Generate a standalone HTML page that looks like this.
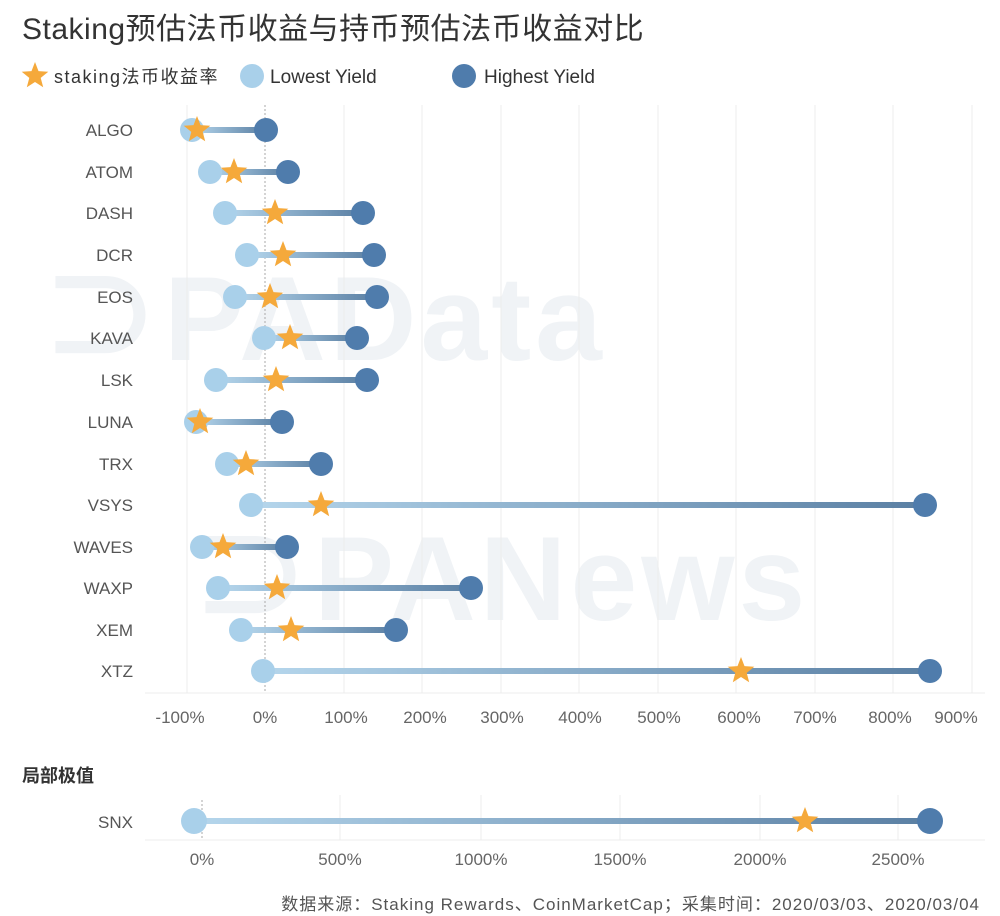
<!DOCTYPE html>
<html><head><meta charset="utf-8"><style>
body{margin:0;background:#fff}
svg{display:block;font-family:"Liberation Sans","Noto Sans CJK SC",sans-serif}
</style></head><body>
<svg width="1000" height="916" viewBox="0 0 1000 916" xmlns="http://www.w3.org/2000/svg">
<defs>
<linearGradient id="g" x1="0" y1="0" x2="1" y2="0"><stop offset="0" stop-color="#b5d6ec"/><stop offset="1" stop-color="#5a7fa3"/></linearGradient>
<polygon id="st" fill="#f5a93b" points="0,-14 3.5,-4.9 13.3,-4.3 5.7,1.9 8.2,11.3 0,6 -8.2,11.3 -5.7,1.9 -13.3,-4.3 -3.5,-4.9"/>
</defs>
<text x="22" y="39" font-size="30" fill="#333" letter-spacing="0.5">Staking预估法币收益与持币预估法币收益对比</text>
<use href="#st" x="35" y="76"/>
<text x="54" y="83" font-size="18" fill="#333" letter-spacing="1.5">staking法币收益率</text>
<circle cx="252" cy="76" r="12" fill="#a9d0ea"/>
<text x="270" y="83" font-size="19" fill="#333">Lowest Yield</text>
<circle cx="464" cy="76" r="12" fill="#4f7cac"/>
<text x="484" y="83" font-size="19" fill="#333">Highest Yield</text>
<!-- watermark -->
<text x="40" y="360" font-size="120" font-weight="bold" fill="#f0f3f6" letter-spacing="4">⊃PAData</text>
<text x="190" y="620" font-size="120" font-weight="bold" fill="#f0f3f6" letter-spacing="4">⊃PANews</text>
<!-- grid -->
<g stroke="#ececec" stroke-width="1">
<line x1="187" y1="105" x2="187" y2="693"/><line x1="344" y1="105" x2="344" y2="693"/><line x1="422" y1="105" x2="422" y2="693"/><line x1="501" y1="105" x2="501" y2="693"/><line x1="579" y1="105" x2="579" y2="693"/><line x1="658" y1="105" x2="658" y2="693"/><line x1="736" y1="105" x2="736" y2="693"/><line x1="815" y1="105" x2="815" y2="693"/><line x1="893" y1="105" x2="893" y2="693"/><line x1="972" y1="105" x2="972" y2="693"/>
<line x1="145" y1="693" x2="985" y2="693"/>
<line x1="340" y1="795" x2="340" y2="840"/><line x1="481" y1="795" x2="481" y2="840"/><line x1="620" y1="795" x2="620" y2="840"/><line x1="760" y1="795" x2="760" y2="840"/><line x1="898" y1="795" x2="898" y2="840"/>
<line x1="145" y1="840" x2="985" y2="840"/>
</g>
<line x1="265" y1="105" x2="265" y2="693" stroke="#aaa" stroke-dasharray="2,2"/>
<line x1="202" y1="800" x2="202" y2="840" stroke="#aaa" stroke-dasharray="2,2"/>
<g font-size="17" fill="#555" text-anchor="end">
<text x="133" y="136">ALGO</text><text x="133" y="178">ATOM</text><text x="133" y="219">DASH</text><text x="133" y="261">DCR</text><text x="133" y="303">EOS</text><text x="133" y="344">KAVA</text><text x="133" y="386">LSK</text><text x="133" y="428">LUNA</text><text x="133" y="470">TRX</text><text x="133" y="511">VSYS</text><text x="133" y="553">WAVES</text><text x="133" y="594">WAXP</text><text x="133" y="636">XEM</text><text x="133" y="677">XTZ</text>
<text x="133" y="828">SNX</text>
</g>
<g font-size="17" fill="#666" text-anchor="middle">
<text x="180" y="723">-100%</text><text x="265" y="723">0%</text><text x="346" y="723">100%</text><text x="425" y="723">200%</text><text x="502" y="723">300%</text><text x="580" y="723">400%</text><text x="659" y="723">500%</text><text x="739" y="723">600%</text><text x="815" y="723">700%</text><text x="890" y="723">800%</text><text x="956" y="723">900%</text>
<text x="202" y="865">0%</text><text x="340" y="865">500%</text><text x="481" y="865">1000%</text><text x="620" y="865">1500%</text><text x="760" y="865">2000%</text><text x="898" y="865">2500%</text>
</g>
<text x="22" y="782" font-size="18" font-weight="bold" fill="#333">局部极值</text>
<text x="980" y="910" font-size="17" fill="#555" text-anchor="end" letter-spacing="1">数据来源：Staking Rewards、CoinMarketCap；采集时间：2020/03/03、2020/03/04</text>
<!-- rows -->
<g>
<rect x="192" y="127" width="74" height="6" fill="url(#g)"/><circle cx="192" cy="130" r="12" fill="#a9d0ea"/><circle cx="266" cy="130" r="12" fill="#4f7cac"/><use href="#st" x="197" y="130"/>
<rect x="210" y="169" width="78" height="6" fill="url(#g)"/><circle cx="210" cy="172" r="12" fill="#a9d0ea"/><circle cx="288" cy="172" r="12" fill="#4f7cac"/><use href="#st" x="234" y="172"/>
<rect x="225" y="210" width="138" height="6" fill="url(#g)"/><circle cx="225" cy="213" r="12" fill="#a9d0ea"/><circle cx="363" cy="213" r="12" fill="#4f7cac"/><use href="#st" x="275" y="213"/>
<rect x="247" y="252" width="127" height="6" fill="url(#g)"/><circle cx="247" cy="255" r="12" fill="#a9d0ea"/><circle cx="374" cy="255" r="12" fill="#4f7cac"/><use href="#st" x="283" y="255"/>
<rect x="235" y="294" width="142" height="6" fill="url(#g)"/><circle cx="235" cy="297" r="12" fill="#a9d0ea"/><circle cx="377" cy="297" r="12" fill="#4f7cac"/><use href="#st" x="270" y="297"/>
<rect x="264" y="335" width="93" height="6" fill="url(#g)"/><circle cx="264" cy="338" r="12" fill="#a9d0ea"/><circle cx="357" cy="338" r="12" fill="#4f7cac"/><use href="#st" x="290" y="338"/>
<rect x="216" y="377" width="151" height="6" fill="url(#g)"/><circle cx="216" cy="380" r="12" fill="#a9d0ea"/><circle cx="367" cy="380" r="12" fill="#4f7cac"/><use href="#st" x="276" y="380"/>
<rect x="196" y="419" width="86" height="6" fill="url(#g)"/><circle cx="196" cy="422" r="12" fill="#a9d0ea"/><circle cx="282" cy="422" r="12" fill="#4f7cac"/><use href="#st" x="200" y="422"/>
<rect x="227" y="461" width="94" height="6" fill="url(#g)"/><circle cx="227" cy="464" r="12" fill="#a9d0ea"/><circle cx="321" cy="464" r="12" fill="#4f7cac"/><use href="#st" x="246" y="464"/>
<rect x="251" y="502" width="674" height="6" fill="url(#g)"/><circle cx="251" cy="505" r="12" fill="#a9d0ea"/><circle cx="925" cy="505" r="12" fill="#4f7cac"/><use href="#st" x="321" y="505"/>
<rect x="202" y="544" width="85" height="6" fill="url(#g)"/><circle cx="202" cy="547" r="12" fill="#a9d0ea"/><circle cx="287" cy="547" r="12" fill="#4f7cac"/><use href="#st" x="223" y="547"/>
<rect x="218" y="585" width="253" height="6" fill="url(#g)"/><circle cx="218" cy="588" r="12" fill="#a9d0ea"/><circle cx="471" cy="588" r="12" fill="#4f7cac"/><use href="#st" x="277" y="588"/>
<rect x="241" y="627" width="155" height="6" fill="url(#g)"/><circle cx="241" cy="630" r="12" fill="#a9d0ea"/><circle cx="396" cy="630" r="12" fill="#4f7cac"/><use href="#st" x="291" y="630"/>
<rect x="263" y="668" width="667" height="6" fill="url(#g)"/><circle cx="263" cy="671" r="12" fill="#a9d0ea"/><circle cx="930" cy="671" r="12" fill="#4f7cac"/><use href="#st" x="741" y="671"/>
<rect x="194" y="818" width="736" height="6" fill="url(#g)"/><circle cx="194" cy="821" r="13" fill="#a9d0ea"/><circle cx="930" cy="821" r="13" fill="#4f7cac"/><use href="#st" x="805" y="821"/>
</g>
</svg>
</body></html>
